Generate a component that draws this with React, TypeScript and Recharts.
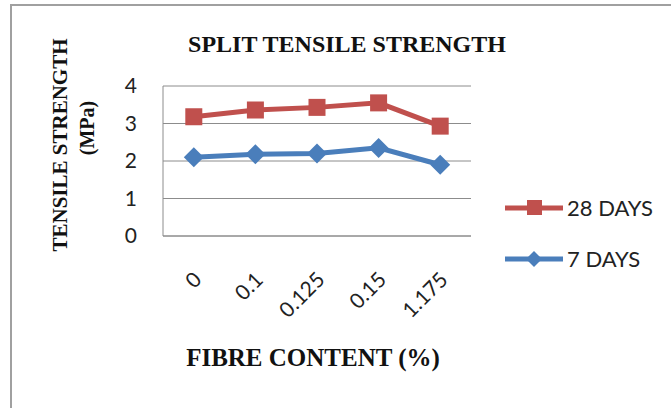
import { LineChart, Line, XAxis, YAxis, CartesianGrid } from "recharts";

const fibre = ["0", "0.1", "0.125", "0.15", "1.175"];
const days28 = [3.18, 3.36, 3.43, 3.55, 2.93];
const days7 = [2.1, 2.18, 2.2, 2.35, 1.9];
const yTicks = [0, 1, 2, 3, 4];

const data = fibre.map((f, i) => ({ fibre: f, d28: days28[i], d7: days7[i] }));

const RED = "#C0504D";
const BLUE = "#4A7EBB";
const GRID = "#8c8c8c";
const SANS = "Lato, 'Open Sans', sans-serif";
const SERIF = "'Liberation Serif', 'DejaVu Serif', serif";

const SquareDot = (props: any) => {
  const { cx, cy } = props;
  if (cx == null || cy == null) return null;
  return <rect x={cx - 8.5} y={cy - 8.5} width={17} height={17} fill={RED} />;
};

const DiamondDot = (props: any) => {
  const { cx, cy } = props;
  if (cx == null || cy == null) return null;
  const r = 10;
  return (
    <polygon
      points={`${cx},${cy - r} ${cx + r},${cy} ${cx},${cy + r} ${cx - r},${cy}`}
      fill={BLUE}
    />
  );
};

const XTick = (props: any) => {
  const { x, y, payload } = props;
  const ax = x + 9;
  const ay = y + 45;
  return (
    <text
      x={ax}
      y={ay}
      transform={`rotate(-45 ${ax} ${ay})`}
      textAnchor="end"
      fontFamily={SANS}
      fontSize={21}
      fill="#222"
    >
      {payload.value}
    </text>
  );
};

export default function App() {
  return (
    <div
      style={{
        position: "absolute",
        left: 0,
        top: 0,
        width: 671,
        height: 408,
        overflow: "hidden",
        background: "#fff",
      }}
    >
      <div
        style={{
          position: "absolute",
          left: 10,
          top: 4,
          width: 700,
          height: 500,
          borderLeft: "2px solid #a0a0a0",
          borderTop: "2px solid #a0a0a0",
        }}
      />
      <LineChart
        width={671}
        height={408}
        data={data}
        margin={{ top: 86, right: 200, bottom: 112, left: 0 }}
        style={{ position: "absolute", left: 0, top: 0 }}
      >
        <CartesianGrid vertical={false} stroke={GRID} strokeWidth={1} />
        <XAxis
          dataKey="fibre"
          height={60}
          padding={{ left: 30.8, right: 30.8 }}
          axisLine={{ stroke: GRID }}
          tickLine={false}
          tickSize={0}
          tickMargin={0}
          interval={0}
          tick={<XTick />}
        />
        <YAxis
          width={163}
          domain={[0, 4]}
          ticks={yTicks}
          axisLine={{ stroke: GRID }}
          tickLine={false}
          tickSize={0}
          tickMargin={26}
          tick={{ fontFamily: SANS, fontSize: 21, fill: "#222" }}
        />
        <Line
          dataKey="d28"
          stroke={RED}
          strokeWidth={5}
          dot={<SquareDot />}
          activeDot={false}
          isAnimationActive={false}
        />
        <Line
          dataKey="d7"
          stroke={BLUE}
          strokeWidth={5}
          dot={<DiamondDot />}
          activeDot={false}
          isAnimationActive={false}
        />
      </LineChart>
      <svg
        width={671}
        height={408}
        style={{ position: "absolute", left: 0, top: 0, pointerEvents: "none" }}
      >
        <text
          x={347}
          y={52}
          textAnchor="middle"
          fontFamily={SERIF}
          fontWeight="bold"
          fontSize={24}
          fill="#111"
        >
          SPLIT TENSILE STRENGTH
        </text>
        <text
          x={313}
          y={366}
          textAnchor="middle"
          fontFamily={SERIF}
          fontWeight="bold"
          fontSize={25}
          fill="#111"
        >
          FIBRE CONTENT (%)
        </text>
        <text
          x={67}
          y={145}
          transform="rotate(-90 67 145)"
          textAnchor="middle"
          fontFamily={SERIF}
          fontWeight="bold"
          fontSize={21}
          fill="#111"
        >
          TENSILE STRENGTH
        </text>
        <text
          x={94}
          y={128}
          transform="rotate(-90 94 128)"
          textAnchor="middle"
          fontFamily={SERIF}
          fontWeight="bold"
          fontSize={20}
          fill="#111"
        >
          (MPa)
        </text>
        {/* legend */}
        <line x1={505} y1={208} x2={563} y2={208} stroke={RED} strokeWidth={5} />
        <rect x={527} y={200} width={15} height={15} fill={RED} />
        <text x={567} y={216} fontFamily={SANS} fontSize={22} fill="#222">
          28 DAYS
        </text>
        <line x1={505} y1={259} x2={563} y2={259} stroke={BLUE} strokeWidth={5} />
        <polygon points="534,251 542,259 534,267 526,259" fill={BLUE} />
        <text x={567} y={267} fontFamily={SANS} fontSize={22} fill="#222">
          7 DAYS
        </text>
      </svg>
    </div>
  );
}
